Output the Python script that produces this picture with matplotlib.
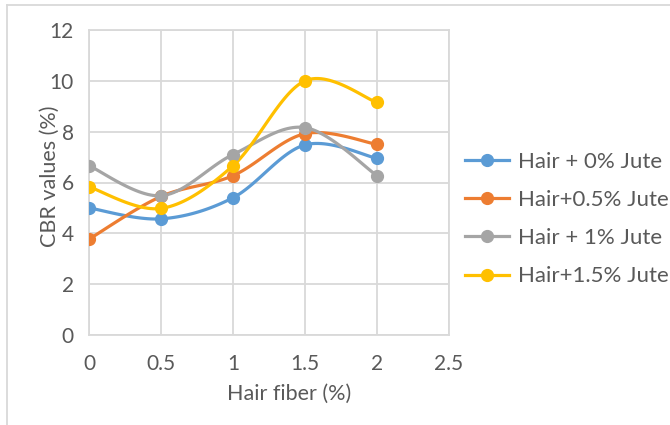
import numpy as np
import matplotlib
matplotlib.use("Agg")
import matplotlib.pyplot as plt
from matplotlib.lines import Line2D
from matplotlib.legend_handler import HandlerLine2D

# data
hair_fiber = [0, 0.5, 1, 1.5, 2]
jute_0 = [5.0, 4.57, 5.4, 7.48, 6.95]
jute_05 = [3.77, 5.45, 6.27, 7.92, 7.5]
jute_1 = [6.66, 5.48, 7.1, 8.16, 6.27]
jute_15 = [5.83, 4.98, 6.66, 10.0, 9.15]

labels = ["Hair + 0% Jute", "Hair+0.5% Jute", "Hair + 1% Jute", "Hair+1.5% Jute"]
colors = ["#5B9BD5", "#ED7D31", "#A5A5A5", "#FFC000"]

plt.rcParams["font.family"] = ["Lato", "DejaVu Sans"]
text_col = "#595959"
grid_col = "#D9D9D9"


def smooth(x, y, n=30):
    # Catmull-Rom curve through the points, like Excel's smoothed line
    x = np.asarray(x, float)
    y = np.asarray(y, float)
    px = np.concatenate([[x[0]], x, [x[-1]]])
    py = np.concatenate([[y[0]], y, [y[-1]]])
    xs, ys = [], []
    t = np.linspace(0, 1, n)
    for i in range(1, len(px) - 2):
        for p, out in ((px, xs), (py, ys)):
            p0, p1, p2, p3 = p[i - 1], p[i], p[i + 1], p[i + 2]
            c1 = p1 + (p2 - p0) / 6
            c2 = p2 - (p3 - p1) / 6
            out.extend((1 - t) ** 3 * p1 + 3 * (1 - t) ** 2 * t * c1
                       + 3 * (1 - t) * t ** 2 * c2 + t ** 3 * p2)
    return np.array(xs), np.array(ys)


class EndMarker(HandlerLine2D):
    # marker at the right end of the legend line, as in Excel
    def get_xdata(self, legend, xdescent, ydescent, width, height, fontsize):
        xdata = [-xdescent, -xdescent + width]
        return xdata, [-xdescent + width]


fig = plt.figure(figsize=(6.7, 4.25), dpi=100)
ax = fig.add_axes([89 / 670, 90 / 425, 360 / 670, 305 / 425])

handles = []
for ys, lab, c in zip([jute_0, jute_05, jute_1, jute_15], labels, colors):
    sx, sy = smooth(hair_fiber, ys)
    ax.plot(sx, sy, color=c, lw=2.3, solid_capstyle="round", zorder=3)
    ax.plot(hair_fiber, ys, "o", color=c, ms=8.5, zorder=4)
    handles.append(Line2D([], [], color=c, lw=2.3, marker="o", ms=8.5, label=lab))

ax.set_xlim(0, 2.5)
ax.set_ylim(0, 12)
ax.set_xticks([0, 0.5, 1, 1.5, 2, 2.5])
ax.set_xticklabels(["0", "0.5", "1", "1.5", "2", "2.5"])
ax.set_yticks(range(0, 13, 2))
ax.grid(True, color=grid_col, lw=1.3)
ax.set_axisbelow(True)
for s in ax.spines.values():
    s.set_color(grid_col)
    s.set_linewidth(1.3)
ax.tick_params(length=0, labelsize=15, colors=text_col)
ax.tick_params(axis="x", pad=14)
ax.tick_params(axis="y", pad=11)

# axis titles placed where Excel put them
fig.text(289 / 670, 1 - 394 / 425, "Hair fiber (%)", fontsize=15.5, color=text_col,
         ha="center", va="center")
fig.text(50 / 670, 1 - 176 / 425, "CBR values (%)", fontsize=15.5, color=text_col,
         ha="center", va="center", rotation=90)

fig.legend(handles=handles, loc="center left", bbox_to_anchor=(465 / 670, 1 - 219 / 425),
           frameon=False, fontsize=16, labelcolor=text_col, handlelength=2.0,
           handletextpad=0.4, labelspacing=0.82, borderpad=0, borderaxespad=0,
           handler_map={Line2D: EndMarker()})

# outer chart frame (partly cut off in the original)
fig.add_artist(Line2D([7 / 670, 7 / 670], [0, 1 - 5 / 425], color=grid_col, lw=1.3))
fig.add_artist(Line2D([7 / 670, 1], [1 - 5 / 425, 1 - 5 / 425], color=grid_col, lw=1.3))

fig.savefig("out.png", dpi=100)
